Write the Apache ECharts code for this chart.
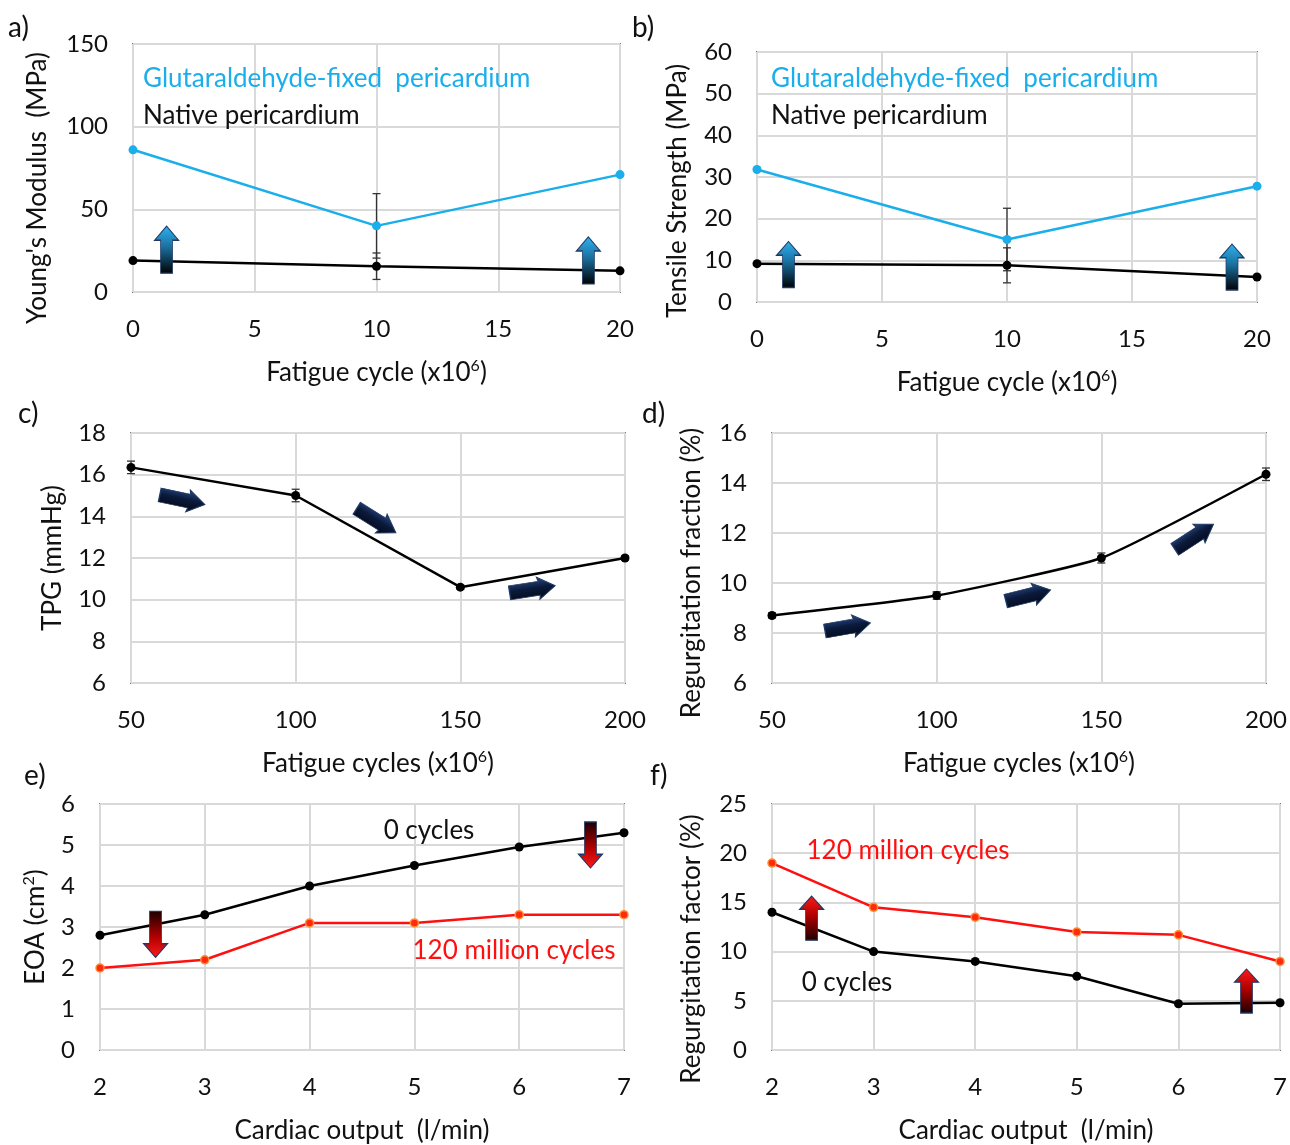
<!DOCTYPE html>
<html lang="en">
  <head>
    <meta charset="UTF-8" />
    <title>Heart valve fatigue</title>
    <style>
      html,
      body {
        margin: 0;
        padding: 0;
        background: #fff;
      }
      #main {
        width: 1290px;
        height: 1145px;
      }
    </style>
  </head>
  <body>
    <div id="main"></div>
    <script src="https://cdn.jsdelivr.net/npm/echarts@6/dist/echarts.min.js"></script>
    <script>
      // a) + b): tissue mechanics vs fatigue cycle (x10^6)
      const cyclesAB = [0, 10, 20];
      const modulusFixed = [86, 40, 71];
      const modulusFixedErr = [0, 19.5, 0];
      const modulusNative = [19, 15.6, 12.8];
      const modulusNativeErr = [0, 8, 0];
      const strengthFixed = [31.8, 15, 27.8];
      const strengthFixedErr = [0, 7.5, 0];
      const strengthNative = [9.2, 8.8, 6];
      const strengthNativeErr = [0, 4.2, 0];

      // c) + d): hydrodynamics vs fatigue cycles (x10^6)
      const cyclesCD = [50, 100, 150, 200];
      const tpg = [16.35, 15, 10.6, 12];
      const tpgErr = [0.3, 0.3, 0.1, 0.1];
      const regFraction = [8.7, 9.5, 11, 14.35];
      const regFractionErr = [0.1, 0.15, 0.2, 0.25];

      // e) + f): vs cardiac output (l/min)
      const cardiacOutput = [2, 3, 4, 5, 6, 7];
      const eoa0 = [2.8, 3.3, 4.0, 4.5, 4.95, 5.3];
      const eoa120 = [2.0, 2.2, 3.1, 3.1, 3.3, 3.3];
      const regFactor0 = [14, 10, 9, 7.5, 4.7, 4.8];
      const regFactor120 = [19, 14.5, 13.5, 12, 11.7, 9];

      const FONT = "Lato";
      const BLUE = "#1aaeea";
      const RED = "#ff1010";

      const chart = echarts.init(document.getElementById("main"));

      const pairs = (xs, ys) => xs.map((x, i) => [x, ys[i]]);

      const UP_ARROW = "path://M11,0 L22,15 L16.5,15 L16.5,50 L5.5,50 L5.5,15 L0,15 Z";
      const BLOCK_ARROW = "path://M0,4 L30,4 L29,0 L46,11 L29,22 L30,18 L0,18 Z";

      const grad = (top, mid, bottom) => ({
        type: "linear",
        x: 0, y: 0, x2: 0, y2: 1,
        colorStops: [
          { offset: 0, color: top },
          { offset: 0.45, color: mid },
          { offset: 1, color: bottom },
        ],
      });
      const blueGrad = grad("#30b4f0", "#1a6f9e", "#000000");
      const redGrad = grad("#ff1a1a", "#b00000", "#1a0000");
      const navyGrad = grad("#2b4c86", "#0b1a3c", "#020814");

      // arrows: [x, y, rotate] in data units
      const arrowMarks = (list, symbol, size, color) => ({
        silent: true,
        label: { show: false },
        data: list.map((a) => ({
          coord: [a[0], a[1]],
          symbol: symbol,
          symbolSize: size,
          symbolRotate: a[2] || 0,
          itemStyle: { color: color, borderColor: "#1f3864", borderWidth: 1 },
        })),
      });

      const errorBars = (xs, ys, errs, idx, color) => ({
        type: "custom",
        xAxisIndex: idx,
        yAxisIndex: idx,
        z: 1,
        silent: true,
        data: xs.map((x, i) => [x, ys[i] - errs[i], ys[i] + errs[i]]),
        renderItem: (params, api) => {
          const lo = api.coord([api.value(0), api.value(1)]);
          const hi = api.coord([api.value(0), api.value(2)]);
          const w = 4;
          const st = { stroke: color, lineWidth: 1.3 };
          return {
            type: "group",
            children: [
              { type: "line", shape: { x1: lo[0], y1: lo[1], x2: hi[0], y2: hi[1] }, style: st },
              { type: "line", shape: { x1: lo[0] - w, y1: lo[1], x2: lo[0] + w, y2: lo[1] }, style: st },
              { type: "line", shape: { x1: hi[0] - w, y1: hi[1], x2: hi[0] + w, y2: hi[1] }, style: st },
            ],
          };
        },
      });

      const line = (idx, data, color, extra) =>
        Object.assign(
          {
            type: "line",
            xAxisIndex: idx,
            yAxisIndex: idx,
            data: data,
            symbol: "circle",
            symbolSize: 9,
            z: 3,
            lineStyle: { color: color, width: 2.5 },
            itemStyle: { color: color },
          },
          extra || {}
        );

      const redLine = (idx, data) =>
        line(idx, data, RED, {
          symbolSize: 8,
          itemStyle: { color: "#ff2a10", borderColor: "#ff8c30", borderWidth: 1.5 },
        });

      const nameRich = {
        t: { fontFamily: FONT, fontSize: 26, color: "#111", lineHeight: 30 },
        s: { fontFamily: FONT, fontSize: 16, color: "#111", verticalAlign: "top", lineHeight: 16 },
      };

      const tickLabel = { margin: 25, fontSize: 24, fontFamily: FONT, color: "#111" };

      const xAx = (idx, min, max, interval, name) => ({
        type: "value",
        gridIndex: idx,
        min: min,
        max: max,
        interval: interval,
        name: name,
        nameLocation: "middle",
        nameGap: 66,
        nameTextStyle: { rich: nameRich },
        axisLine: { show: false },
        axisTick: { show: false },
        axisLabel: tickLabel,
        splitLine: { lineStyle: { color: "#d9d9d9", width: 2 } },
      });

      const yAx = (idx, min, max, interval, name, gap, shift) => ({
        type: "value",
        gridIndex: idx,
        min: min,
        max: max,
        interval: interval,
        name: name,
        nameLocation: "middle",
        nameGap: gap,
        nameTextStyle: { rich: nameRich, padding: [0, shift * 2, 0, 0] },
        axisLine: { show: false },
        axisTick: { show: false },
        axisLabel: tickLabel,
        splitLine: { lineStyle: { color: "#d9d9d9", width: 2 } },
      });

      const gridBox = (left, top, width, height) => ({
        left: left,
        top: top,
        width: width,
        height: height,
        show: true,
        borderColor: "#111",
        borderWidth: 1.5,
        backgroundColor: "transparent",
      });

      const text = (x, y, str, color, size, align) => ({
        type: "text",
        x: x,
        y: y,
        z: 100,
        silent: true,
        style: {
          text: str,
          fill: color,
          fontFamily: FONT,
          fontSize: size,
          align: align || "left",
          verticalAlign: "middle",
        },
      });

      const fatigueName = "{t|Fatigue cycle (x10}{s|6}{t|)}";
      const fatiguesName = "{t|Fatigue cycles (x10}{s|6}{t|)}";
      const cardiacName = "{t|Cardiac output  (l/min)}";

      const option = {
        animation: false,
        backgroundColor: "#fff",
        grid: [
          gridBox(133, 44, 487, 248),
          gridBox(757, 52, 500, 250),
          gridBox(131, 433, 494, 250),
          gridBox(772, 433, 494, 250),
          gridBox(100, 804, 524, 248),
          gridBox(772, 804, 509, 248),
        ],
        xAxis: [
          xAx(0, 0, 20, 5, fatigueName),
          xAx(1, 0, 20, 5, fatigueName),
          xAx(2, 50, 200, 50, fatiguesName),
          xAx(3, 50, 200, 50, fatiguesName),
          xAx(4, 2, 7, 1, cardiacName),
          xAx(5, 2, 7, 1, cardiacName),
        ],
        yAxis: [
          yAx(0, 0, 150, 50, "{t|Young's Modulus  (MPa)}", 80, 20),
          yAx(1, 0, 60, 10, "{t|Tensile Strength (MPa)}", 64, 14),
          yAx(2, 6, 18, 2, "{t|TPG (mmHg)}", 63, 0),
          yAx(3, 6, 16, 2, "{t|Regurgitation fraction (%)}", 65, 15),
          yAx(4, 0, 6, 1, "{t|EOA (cm}{s|2}{t|)}", 49, 0),
          yAx(5, 0, 25, 5, "{t|Regurgitation factor (%)}", 65, 22),
        ],
        series: [
          // a)
          errorBars(cyclesAB, modulusFixed, modulusFixedErr, 0, "#333"),
          errorBars(cyclesAB, modulusNative, modulusNativeErr, 0, "#333"),
          line(0, pairs(cyclesAB, modulusFixed), BLUE),
          line(0, pairs(cyclesAB, modulusNative), "#000", {
            markPoint: arrowMarks([[1.38, 25.6], [18.7, 19.1]], UP_ARROW, [24, 47], blueGrad),
          }),
          // b)
          errorBars(cyclesAB, strengthFixed, strengthFixedErr, 1, "#333"),
          errorBars(cyclesAB, strengthNative, strengthNativeErr, 1, "#333"),
          line(1, pairs(cyclesAB, strengthFixed), BLUE),
          line(1, pairs(cyclesAB, strengthNative), "#000", {
            markPoint: arrowMarks([[1.26, 9.0], [19.0, 8.4]], UP_ARROW, [24, 46], blueGrad),
          }),
          // c)
          errorBars(cyclesCD, tpg, tpgErr, 2, "#333"),
          line(2, pairs(cyclesCD, tpg), "#000", {
            markPoint: arrowMarks(
              [[65.6, 14.8, -12], [124.5, 13.8, -32], [171.9, 10.5, 9]],
              BLOCK_ARROW, [46, 22], navyGrad
            ),
          }),
          // d)
          errorBars(cyclesCD, regFraction, regFractionErr, 3, "#333"),
          line(3, pairs(cyclesCD, regFraction), "#000", {
            smooth: 0.15,
            markPoint: arrowMarks(
              [[73, 8.24, 10], [127.8, 9.5, 14], [178.2, 11.85, 33]],
              BLOCK_ARROW, [46, 22], navyGrad
            ),
          }),
          // e)
          line(4, pairs(cardiacOutput, eoa0), "#000", {
            markPoint: arrowMarks([[2.53, 2.82, 180], [6.68, 5.0, 180]], UP_ARROW, [24, 46], redGrad),
          }),
          redLine(4, pairs(cardiacOutput, eoa120)),
          // f)
          line(5, pairs(cardiacOutput, regFactor0), "#000", {
            markPoint: arrowMarks([[2.39, 13.4], [6.67, 6.0]], UP_ARROW, [24, 44], redGrad),
          }),
          redLine(5, pairs(cardiacOutput, regFactor120)),
        ],
        graphic: {
          elements: [
            text(8, 28, "a)", "#111", 28),
            text(632, 28, "b)", "#111", 28),
            text(18, 414, "c)", "#111", 28),
            text(642, 414, "d)", "#111", 28),
            text(24, 776, "e)", "#111", 28),
            text(650, 776, "f)", "#111", 28),
            text(143, 79, "Glutaraldehyde-fixed  pericardium", BLUE, 26),
            text(143, 116, "Native pericardium", "#111", 26),
            text(771, 79, "Glutaraldehyde-fixed  pericardium", BLUE, 26),
            text(771, 116, "Native pericardium", "#111", 26),
            text(429, 831, "0 cycles", "#111", 26, "center"),
            text(514, 951, "120 million cycles", RED, 26, "center"),
            text(908, 851, "120 million cycles", RED, 26, "center"),
            text(847, 983, "0 cycles", "#111", 26, "center"),
          ],
        },
      };

      chart.setOption(option);
    </script>
  </body>
</html>
